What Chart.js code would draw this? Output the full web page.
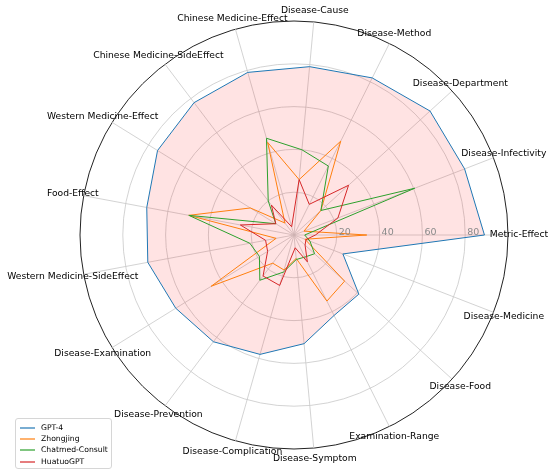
<!DOCTYPE html>
<html>
<head>
<meta charset="utf-8">
<script src="https://cdn.jsdelivr.net/npm/chart.js@4/dist/chart.umd.min.js"></script>
<style>
  body { margin: 0; background: #fff; }
  #wrap { position: relative; width: 549px; height: 471px; }
  #legend {
    position: absolute; left: 15px; top: 418px; width: 95px; height: 49px;
    border: 1px solid #d6d6d6; border-radius: 3px; background: rgba(255,255,255,0.8);
    font: 7.7px "DejaVu Sans", sans-serif; color: #000;
  }
  .row { position: absolute; left: 0; height: 10px; line-height: 10px; }
  .row .ln { position: absolute; left: 4px; top: 4px; width: 15px; height: 2px; opacity: 0.6; }
  .row .tx { position: absolute; left: 25px; top: 0; white-space: nowrap; }
</style>
</head>
<body>
<div id="wrap">
  <canvas id="radar" width="549" height="471"></canvas>
  <div id="legend"></div>
</div>
<script>
// ── Data (matplotlib order: counter-clockwise from east) ───────────────────
const categories = [
  'Metric-Effect', 'Disease-Infectivity', 'Disease-Department', 'Disease-Method',
  'Disease-Cause', 'Chinese Medicine-Effect', 'Chinese Medicine-SideEffect',
  'Western Medicine-Effect', 'Food-Effect', 'Western Medicine-SideEffect',
  'Disease-Examination', 'Disease-Prevention', 'Disease-Complication',
  'Disease-Symptom', 'Examination-Range', 'Disease-Food', 'Disease-Medicine',
];
const gpt4      = [89, 85.5, 86, 82, 79, 79, 77.5, 75, 70, 69.5, 65, 62.5, 58, 51, 42, 41, 24.5];
const zhongjing = [34, 5, 17, 49, 26, 45, 7, 24, 50, 8.5, 45.5, 16.5, 17, 11, 34.5, 32, 5.5];
const chatmed   = [5, 60.5, 17, 36, 40, 47, 20, 10, 50, 21, 19, 26.5, 18, 11.5, 11.5, 13, 8];
const huatuo    = [10, 22, 34.5, 16, 26, 4, 17.5, 10, 25.5, 13.5, 14.5, 24, 24.5, 6, 14, 7, 6];
const rTicks    = [20, 40, 60, 80];

const COLORS = { gpt4: '#1f77b4', zhongjing: '#ff7f0e', chatmed: '#2ca02c', huatuo: '#d62728' };

// Chart.js walks clockwise, matplotlib counter-clockwise -> keep first, reverse the rest
const cw = a => [a[0], ...a.slice(1).reverse()];

// ── Labels + r-tick text drawn through the scale ───────────────────────────
const overlay = {
  id: 'overlay',
  afterDraw(chart) {
    const s = chart.scales.r, ctx = chart.ctx;
    ctx.save();
    ctx.fillStyle = '#000';
    ctx.font = '9.2px "DejaVu Sans"';
    ctx.textAlign = 'center';
    ctx.textBaseline = 'middle';
    chart.data.labels.forEach((lab, i) => {
      const p = s.getPointPosition(i, s.drawingArea + 11);
      ctx.fillText(lab, p.x, p.y);
    });
    ctx.fillStyle = '#8a8a8a';
    ctx.font = '9.5px "DejaVu Sans"';
    ctx.textAlign = 'left';
    ctx.textBaseline = 'alphabetic';
    rTicks.forEach(v => {
      ctx.fillText(String(v), s.xCenter + s.getDistanceFromCenterForValue(v) + 2, s.yCenter - 0.5);
    });
    ctx.restore();
  },
};

function ds(label, data, color, order, fill) {
  return {
    label, data: cw(data), order,
    borderColor: color, borderWidth: 1,
    backgroundColor: fill || 'transparent', fill: !!fill,
    pointRadius: 0, pointHoverRadius: 0,
  };
}

new Chart(document.getElementById('radar'), {
  type: 'radar',
  data: {
    labels: cw(categories),
    datasets: [
      ds('GPT-4', gpt4, COLORS.gpt4, 4, 'rgba(255,0,0,0.11)'),
      ds('Zhongjing', zhongjing, COLORS.zhongjing, 3),
      ds('Chatmed-Consult', chatmed, COLORS.chatmed, 2),
      ds('HuatuoGPT', huatuo, COLORS.huatuo, 1),
    ],
  },
  options: {
    responsive: false,
    animation: false,
    devicePixelRatio: 1,
    layout: { padding: { left: 80, right: 41, top: 21, bottom: 22 } },
    elements: { line: { tension: 0 } },
    plugins: { legend: { display: false }, tooltip: { enabled: false } },
    scales: {
      r: {
        min: 0, max: 100, startAngle: 90,
        ticks: { display: false, stepSize: 20 },
        pointLabels: { display: false },
        grid: {
          circular: true,
          color: c => c.tick && c.tick.value === 100 ? '#222' : '#c8c8c8',
          lineWidth: c => c.tick && c.tick.value === 100 ? 1 : 0.8,
        },
        angleLines: { color: '#c8c8c8', lineWidth: 0.8 },
      },
    },
  },
  plugins: [overlay],
});

// ── Legend ─────────────────────────────────────────────────────────────────
const legendItems = [
  ['GPT-4', COLORS.gpt4], ['Zhongjing', COLORS.zhongjing],
  ['Chatmed-Consult', COLORS.chatmed], ['HuatuoGPT', COLORS.huatuo],
];
const rowTops = [3.7, 14.7, 26, 38];
document.getElementById('legend').innerHTML = legendItems.map(([name, col], i) =>
  `<div class="row" style="top:${rowTops[i]}px"><span class="ln" style="background:${col}"></span><span class="tx">${name}</span></div>`
).join('');
</script>
</body>
</html>
